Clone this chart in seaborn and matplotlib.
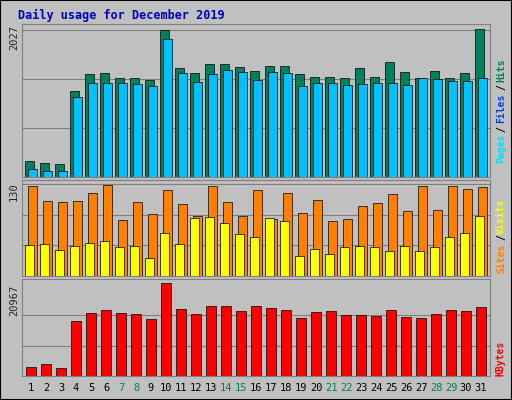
import matplotlib
matplotlib.use("Agg")
import matplotlib.pyplot as plt
import seaborn as sns
import numpy as np

sns.set_style("white")
plt.rcParams['font.family'] = ['DejaVu Sans Mono', 'DejaVu Sans']

days = list(range(1, 32))
hits_y = [161,163,164,91,74,73,78,78,80,30,68,73,64,64,67,71,66,66,74,77,77,78,68,77,62,72,78,71,78,73,29]
files_y = [169,171,171,97,83,83,83,84,86,39,73,82,74,70,72,80,72,73,86,83,83,85,84,83,83,85,78,79,81,81,78]
hits = [round((177 - y) * 2027 / 147) for y in hits_y]
files = [round((177 - y) * 2027 / 147) for y in files_y]
visits_y = [185,200,201,200,192,184,219,201,213,189,203,215,185,201,215,189,218,192,212,199,220,218,205,202,193,210,185,209,185,188,186]
sites_y = [244,243,249,245,242,240,246,245,257,232,243,217,216,222,233,236,217,220,255,248,253,246,245,246,250,245,250,246,236,232,215]
visits = [round((275 - y) * 130 / 92) for y in visits_y]
sites = [round((275 - y) * 130 / 92) for y in sites_y]
kb_y = [366,363,367,321,313,310,313,314,319,284,309,314,306,306,311,306,308,310,318,312,311,315,315,316,310,317,318,314,310,311,307]
kbytes = [round((375 - y) * 20967 / 60) for y in kb_y]
weekend = [7, 8, 14, 15, 21, 22, 28, 29]

W, H = 512, 400
fig = plt.figure(figsize=(W/100, H/100), dpi=100, facecolor='#C0C0C0')
fig.patches.append(plt.Rectangle((0, 0), 1, 1, transform=fig.transFigure, fill=False, ec='black', lw=1.5))
fig.text(18/W, 1 - 15/H, "Daily usage for December 2019", color='#0000C0', fontsize=8.5, fontweight='bold', va='center')

def mkax(top, bot):
    ax = fig.add_axes([22/W, 1 - bot/H, 468/W, (bot - top)/H])
    ax.set_facecolor('#C0C0C0')
    ax.set_xlim(0.4, 31.6)
    ax.set_xticks([])
    for s in ax.spines.values():
        s.set_color('#808080')
    return ax

def rlabel(y, s, c):
    fig.text(501/W, 1 - y/H, s, color=c, rotation=90, fontsize=7, fontweight='bold', ha='center', va='center')

x = np.array(days)
ax1 = mkax(24, 177)
ax1.set_ylim(0, 2027 * 153 / 147)
for v in [2027 * k / 3 for k in (1, 2, 3)]:
    ax1.axhline(v, color='#808080', lw=0.8, zorder=0)
ax1.bar(x - 0.12, hits, width=0.6, color='#00805C', ec='black', lw=0.5, zorder=2)
ax1.bar(x + 0.12, files, width=0.6, color='#00C0FF', ec='black', lw=0.5, zorder=3)
ax1.set_yticks([])
fig.text(14/W, 1 - 38/H, "2027", rotation=90, fontsize=7.5, va='center', ha='center')
rlabel(148, "Pages", '#00E0FF')
rlabel(129, "/", 'black')
rlabel(108, "Files", '#0040FF')
rlabel(87, "/", 'black')
rlabel(70, "Hits", '#00805C')

ax2 = mkax(180, 276)
ax2.set_ylim(0, 130 * 96 / 92)
for v in [130 * k / 3 for k in (1, 2, 3)]:
    ax2.axhline(v, color='#808080', lw=0.8, zorder=0)
ax2.bar(x + 0.12, visits, width=0.6, color='#FF8000', ec='black', lw=0.5, zorder=2)
ax2.bar(x - 0.12, sites, width=0.6, color='#FFFF00', ec='black', lw=0.5, zorder=3)
ax2.set_yticks([])
fig.text(14/W, 1 - 192/H, "130", rotation=90, fontsize=7.5, va='center', ha='center')
rlabel(258, "Sites", '#FF8000')
rlabel(237, "/", 'black')
rlabel(216, "Visits", '#FFFF00')

ax3 = mkax(279, 376)
ax3.set_ylim(0, 20967 * 97 / 61)
for v in [20967 * k / 2 for k in (1, 2)]:
    ax3.axhline(v, color='#808080', lw=0.8, zorder=0)
ax3.bar(x, kbytes, width=0.7, color='#FF0000', ec='black', lw=0.5, zorder=2)
ax3.set_yticks([])
fig.text(14/W, 1 - 300/H, "20967", rotation=90, fontsize=7.5, va='center', ha='center')
rlabel(358, "KBytes", '#FF0000')

for d in days:
    fx = (22 + (d - 0.4) / 31.2 * 468) / W
    fig.text(fx, 1 - 388/H, str(d), fontsize=7.5, ha='center', va='center',
             color='#00805C' if d in weekend else 'black')

fig.savefig("out.png", dpi=100, facecolor=fig.get_facecolor())
